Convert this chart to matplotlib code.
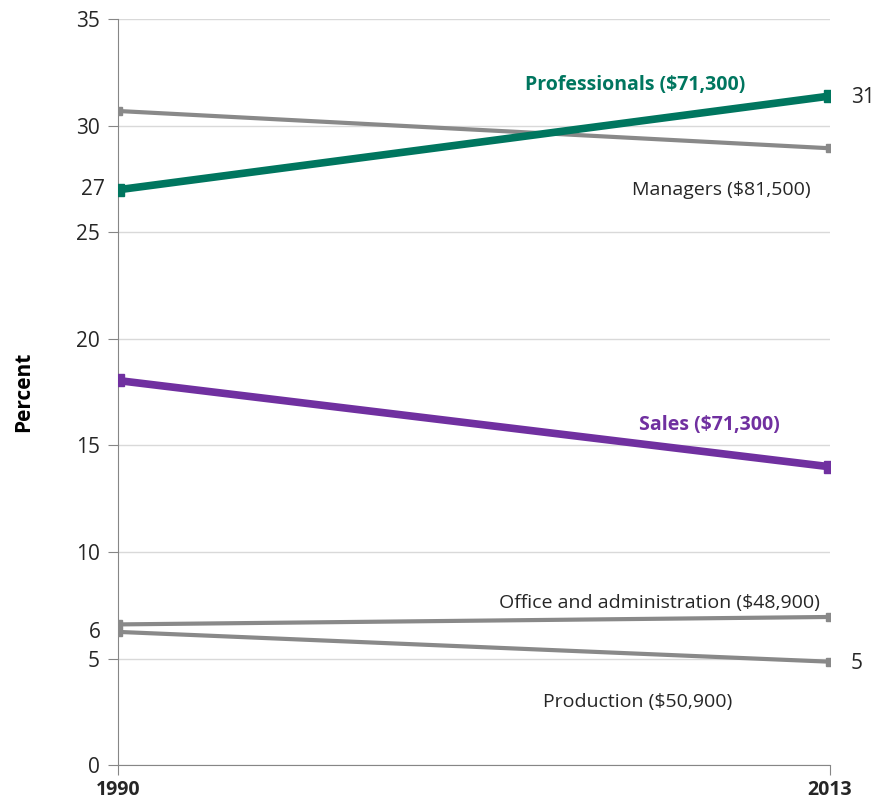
import matplotlib.pyplot as plt

plt.rcParams['font.family'] = ['Open Sans', 'DejaVu Sans']

years = [1990, 2013]
professionals = [27.0, 31.4]
managers = [30.7, 28.95]
sales = [18.05, 14.0]
office = [6.6, 6.95]
production = [6.25, 4.85]

teal = "#00765F"
purple = "#7030A0"
grey = "#898989"
text_col = "#262626"

fig = plt.figure(figsize=(8.79, 8.07), dpi=100)
ax = fig.add_axes([0.134, 0.052, 0.81, 0.924])

ax.plot(years, managers, color=grey, lw=3, marker="s", ms=6, zorder=3)
ax.plot(years, office, color=grey, lw=3, marker="s", ms=6, zorder=3)
ax.plot(years, production, color=grey, lw=3, marker="s", ms=6, zorder=3)
ax.plot(years, professionals, color=teal, lw=5.5, marker="s", ms=9, zorder=4)
ax.plot(years, sales, color=purple, lw=5.5, marker="s", ms=9, zorder=4)

ax.set_xlim(1990, 2013)
ax.set_ylim(0, 35)
ax.set_yticks(range(0, 36, 5))
ax.set_xticks(years)
ax.set_xticklabels([str(y) for y in years], fontweight="bold", fontsize=14, color=text_col)
ax.tick_params(axis="y", labelsize=15, labelcolor=text_col, length=7, color="#868686", pad=6)
ax.tick_params(axis="x", length=7, color="#868686", pad=4)
ax.grid(axis="y", color="#d9d9d9", lw=1)
ax.set_axisbelow(True)
for s in ["top", "right"]:
    ax.spines[s].set_visible(False)
ax.spines["left"].set_color("#868686")
ax.spines["bottom"].set_color("#868686")
ax.set_ylabel("Percent", fontweight="bold", fontsize=15, color="black", labelpad=30)

# series labels
ax.text(2006.7, 31.9, "Professionals ($71,300)", color=teal, fontweight="bold", fontsize=14, ha="center", va="center")
ax.text(2009.5, 27.0, "Managers ($81,500)", color=text_col, fontsize=14, ha="center", va="center")
ax.text(2009.1, 15.95, "Sales ($71,300)", color=purple, fontweight="bold", fontsize=14, ha="center", va="center")
ax.text(2007.5, 7.6, "Office and administration ($48,900)", color=text_col, fontsize=14, ha="center", va="center")
ax.text(2006.8, 2.96, "Production ($50,900)", color=text_col, fontsize=14, ha="center", va="center")

# end-point value labels
ax.annotate(f"{professionals[0]:.0f}", (years[0], professionals[0]), xytext=(-9, 0), textcoords="offset points",
            ha="right", va="center", fontsize=15, color=text_col, annotation_clip=False)
ax.annotate(f"{production[0]:.0f}", (years[0], production[0]), xytext=(-12, -0.5), textcoords="offset points",
            ha="right", va="center", fontsize=15, color=text_col, annotation_clip=False)
ax.annotate(f"{professionals[1]:.0f}", (years[1], professionals[1]), xytext=(15, -1), textcoords="offset points",
            ha="left", va="center", fontsize=15, color=text_col, annotation_clip=False)
ax.annotate(f"{production[1]:.0f}", (years[1], production[1]), xytext=(15, -1), textcoords="offset points",
            ha="left", va="center", fontsize=15, color=text_col, annotation_clip=False)

fig.savefig("out.png", dpi=100)
